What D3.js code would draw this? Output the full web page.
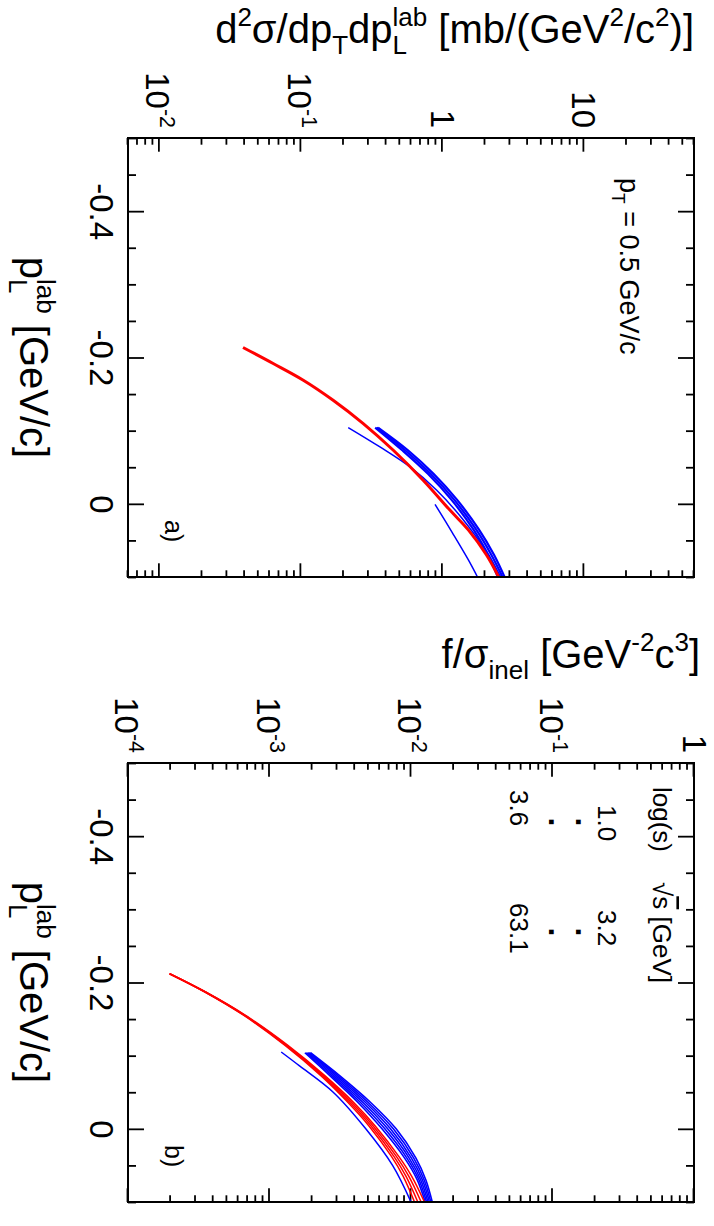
<!DOCTYPE html>
<html>
<head>
<meta charset="utf-8">
<script src="https://cdn.jsdelivr.net/npm/d3@7"></script>
<style>
  body { margin: 0; background: #fff; }
  text { font-family: "Liberation Sans", Arial, Helvetica, sans-serif; fill: #000; }
</style>
</head>
<body>
<svg id="chart" width="714" height="1226"></svg>
<script>
// ---- data (p_L^lab in GeV/c) ----
// panel a: d2sigma/dpT dpL [mb/(GeV^2/c^2)]
var pLRedA = [-0.2137, -0.1918, -0.169, -0.1416, -0.1097, -0.0732, -0.032, 0.0089, 0.036, 0.07, 0.10];
var redA = [0.039, 0.0637, 0.104, 0.169, 0.276, 0.45, 0.734, 1.134, 1.53, 2.05, 2.5];

var pLBlueA = [-0.1042, -0.0732, -0.041, -0.005, 0.035, 0.07, 0.10];
var blueA1 = [0.351, 0.571, 0.866, 1.276, 1.81, 2.32, 2.75];
var blueA2 = [0.343, 0.545, 0.826, 1.219, 1.73, 2.22, 2.66];
var blueA3 = [0.335, 0.520, 0.790, 1.165, 1.655, 2.12, 2.57];

var pLThinA1 = [-0.1042, -0.0777, -0.0504, -0.0185, 0.02, 0.06, 0.10];
var thinA1 = [0.216, 0.362, 0.59, 0.912, 1.38, 1.95, 2.45];
var pLThinA2 = [0.0007, 0.04, 0.077, 0.10];
var thinA2 = [0.887, 1.18, 1.53, 1.77];

// panel b: f/sigma_inel [GeV^-2 c^3]
var pLRedB = [-0.212, -0.187, -0.155, -0.114, -0.072, -0.036, -0.004, 0.038, 0.065, 0.10];
var redB1 = [1.968e-4, 3.494e-4, 6.592e-4, 1.288e-3, 2.328e-3, 3.589e-3, 5.047e-3, 7.295e-3, 8.810e-3, 1.059e-2];
var redB2 = [1.968e-4, 3.511e-4, 6.653e-4, 1.308e-3, 2.378e-3, 3.700e-3, 5.221e-3, 7.592e-3, 9.226e-3, 1.117e-2];
var redB3 = [1.968e-4, 3.527e-4, 6.714e-4, 1.328e-3, 2.430e-3, 3.816e-3, 5.400e-3, 7.903e-3, 9.661e-3, 1.180e-2];
var redB4 = [1.968e-4, 3.543e-4, 6.776e-4, 1.349e-3, 2.483e-3, 3.936e-3, 5.585e-3, 8.222e-3, 1.012e-2, 1.245e-2];

var pLBlueB = [-0.104, -0.072, -0.036, 0.0, 0.04, 0.07, 0.10];
var blueB1 = [1.778e-3, 2.692e-3, 4.217e-3, 6.237e-3, 9.016e-3, 1.109e-2, 1.259e-2];
var blueB2 = [1.811e-3, 2.780e-3, 4.395e-3, 6.531e-3, 9.354e-3, 1.140e-2, 1.288e-2];
var blueB3 = [1.845e-3, 2.871e-3, 4.581e-3, 6.839e-3, 9.705e-3, 1.172e-2, 1.318e-2];
var blueB4 = [1.879e-3, 2.965e-3, 4.775e-3, 7.161e-3, 1.007e-2, 1.205e-2, 1.349e-2];
var blueB5 = [1.914e-3, 3.062e-3, 4.977e-3, 7.499e-3, 1.045e-2, 1.239e-2, 1.380e-2];
var blueB6 = [1.950e-3, 3.162e-3, 5.188e-3, 7.852e-3, 1.084e-2, 1.274e-2, 1.413e-2];

var pLThinB = [-0.105, -0.086, -0.05, 0.0, 0.05, 0.10];
var thinB = [1.21e-3, 1.63e-3, 2.82e-3, 4.79e-3, 7.41e-3, 1.0e-2];

// axis settings
var pLDomain = [-0.5, 0.1];
var pLMajor = [-0.4, -0.2, 0];
var yDomainA = [0.006, 60];
var yDomainB = [1e-4, 1];

// legend of panel b
var legendHead = ["log(s)", "s [GeV]"];
var legendRows = [["1.0", "3.2"], ["3.6", "63.1"]];

var RED = "#ff0000", BLUE = "#0000ff";

function pairs(xs, vs) {
  return xs.map(function(x, i) { return { pL: x, v: vs[i] }; });
}

var seriesA = [
  { d: pairs(pLThinA1, thinA1), c: BLUE, w: 1.5 },
  { d: pairs(pLThinA2, thinA2), c: BLUE, w: 1.5 },
  { d: pairs(pLBlueA, blueA3), c: BLUE, w: 2.2 },
  { d: pairs(pLBlueA, blueA2), c: BLUE, w: 2.2 },
  { d: pairs(pLBlueA, blueA1), c: BLUE, w: 2.2 },
  { d: pairs(pLRedA, redA), c: RED, w: 3 }
];
var seriesB = [
  { d: pairs(pLThinB, thinB), c: BLUE, w: 1.5 },
  { d: pairs(pLBlueB, blueB1), c: BLUE, w: 1.6 },
  { d: pairs(pLBlueB, blueB2), c: BLUE, w: 1.6 },
  { d: pairs(pLBlueB, blueB3), c: BLUE, w: 1.6 },
  { d: pairs(pLBlueB, blueB4), c: BLUE, w: 1.6 },
  { d: pairs(pLBlueB, blueB5), c: BLUE, w: 1.6 },
  { d: pairs(pLBlueB, blueB6), c: BLUE, w: 1.6 },
  { d: pairs(pLRedB, redB1), c: RED, w: 1.5 },
  { d: pairs(pLRedB, redB2), c: RED, w: 1.5 },
  { d: pairs(pLRedB, redB3), c: RED, w: 1.5 },
  { d: pairs(pLRedB, redB4), c: RED, w: 1.5 }
];

// whole figure is drawn landscape and turned by 90 degrees
var svg = d3.select("#chart");
var root = svg.append("g").attr("transform", "translate(714,0) rotate(90)");
var TOP = 20, BOTTOM = 586;

// text with sub/superscripts
function rich(t, parts, F) {
  var shift = 0;
  parts.forEach(function(p) {
    var target = p.s === "sup" ? -0.42 * F : p.s === "sub" ? 0.28 * F : 0;
    var ts = t.append("tspan").text(p.t)
      .attr("dy", target - shift)
      .attr("font-size", p.s ? 0.65 * F : F);
    if (p.dx) ts.attr("dx", p.dx);
    shift = target;
  });
  return t;
}

function drawPanel(p) {
  var g = root.append("g");
  var x = d3.scaleLinear().domain(pLDomain).range([p.left, p.right]);
  var y = d3.scaleLog().domain(p.yDomain).range([BOTTOM, TOP]);

  var fmt = function(d) { return d === 0 ? "0" : d.toFixed(1); };
  var pLMinor = x.ticks(12).filter(function(d) {
    return pLMajor.every(function(m) { return Math.abs(m - d) > 1e-6; });
  });
  var logAll = y.ticks();
  var logMajor = logAll.filter(function(d) { return Math.abs(Math.log10(d) - Math.round(Math.log10(d))) < 1e-6; });
  var logMinor = logAll.filter(function(d) { return logMajor.indexOf(d) < 0; });

  function tickStyle(sel) {
    sel.select(".domain").remove();
    sel.selectAll("line").attr("stroke", "#000").attr("stroke-width", 1.8);
  }

  // p_L axis (bottom + mirrored top)
  var bx = g.append("g").attr("transform", "translate(0," + BOTTOM + ")")
    .call(d3.axisBottom(x).tickValues(pLMajor).tickSize(-16).tickPadding(14.6).tickFormat(fmt));
  bx.attr("font-size", 33).attr("font-family", null);
  bx.selectAll("text").attr("fill", "#000");
  tickStyle(bx);
  tickStyle(g.append("g").attr("transform", "translate(0," + BOTTOM + ")")
    .call(d3.axisBottom(x).tickValues(pLMinor).tickSize(-8).tickFormat("")));
  tickStyle(g.append("g").attr("transform", "translate(0," + TOP + ")")
    .call(d3.axisTop(x).tickValues(pLMajor).tickSize(-16).tickFormat("")));
  tickStyle(g.append("g").attr("transform", "translate(0," + TOP + ")")
    .call(d3.axisTop(x).tickValues(pLMinor).tickSize(-8).tickFormat("")));

  // log axis (left + mirrored right)
  tickStyle(g.append("g").attr("transform", "translate(" + p.left + ",0)")
    .call(d3.axisLeft(y).tickValues(logMajor).tickSize(-13.7).tickFormat("")));
  tickStyle(g.append("g").attr("transform", "translate(" + p.left + ",0)")
    .call(d3.axisLeft(y).tickValues(logMinor).tickSize(-6.7).tickFormat("")));
  tickStyle(g.append("g").attr("transform", "translate(" + p.right + ",0)")
    .call(d3.axisRight(y).tickValues(logMajor).tickSize(-13.7).tickFormat("")));
  tickStyle(g.append("g").attr("transform", "translate(" + p.right + ",0)")
    .call(d3.axisRight(y).tickValues(logMinor).tickSize(-6.7).tickFormat("")));

  // log tick labels
  logMajor.forEach(function(v) {
    var e = Math.round(Math.log10(v));
    var t = g.append("text").attr("x", p.left - 10).attr("y", y(v)).attr("text-anchor", "end");
    if (e >= 0) rich(t, [{ t: String(Math.round(v)) }], 33);
    else rich(t, [{ t: "10" }, { t: String(e), s: "sup" }], 33);
    var bb = t.node().getBBox();
    t.attr("y", y(v) + (y(v) - (bb.y + bb.height / 2)));
  });

  // curves
  var clipId = "clip" + p.name;
  g.append("clipPath").attr("id", clipId).append("rect")
    .attr("x", p.left).attr("y", TOP).attr("width", p.right - p.left).attr("height", BOTTOM - TOP);
  var line = d3.line().x(function(d) { return x(d.pL); }).y(function(d) { return y(d.v); })
    .curve(d3.curveCatmullRom.alpha(0.5));
  g.append("g").attr("clip-path", "url(#" + clipId + ")")
    .selectAll("path").data(p.series).enter().append("path")
    .attr("d", function(s) { return line(s.d); })
    .attr("fill", "none")
    .attr("stroke", function(s) { return s.c; })
    .attr("stroke-width", function(s) { return s.w; });

  // frame
  g.append("rect").attr("x", p.left).attr("y", TOP)
    .attr("width", p.right - p.left).attr("height", BOTTOM - TOP)
    .attr("fill", "none").attr("stroke", "#000").attr("stroke-width", 2);

  // p_L title
  rich(g.append("text").attr("x", (p.left + p.right) / 2).attr("y", 694).attr("text-anchor", "middle"),
    [{ t: "p" }, { t: "L", s: "sub" }, { t: "lab", s: "sup", dx: -0.65 * 40 * 0.556 }, { t: " [GeV/c]" }], 40);

  // y title
  rich(g.append("text").attr("text-anchor", "end")
    .attr("transform", "translate(" + (p.left - 95) + "," + (TOP - p.titleShift) + ") rotate(-90)"), p.yTitle, 40);

  // panel tag
  g.append("text").attr("x", p.left + 382).attr("y", 549).attr("font-size", 25).text(p.tag);
  return g;
}

drawPanel({
  name: "A", left: 138, right: 577, yDomain: yDomainA, series: seriesA, tag: "a)", titleShift: 0,
  yTitle: [{ t: "d" }, { t: "2", s: "sup" }, { t: "\u03C3/dp" }, { t: "T", s: "sub" }, { t: "dp" },
    { t: "L", s: "sub" }, { t: "lab", s: "sup", dx: -0.65 * 40 * 0.556 }, { t: " [mb/(GeV" },
    { t: "2", s: "sup" }, { t: "/c" }, { t: "2", s: "sup" }, { t: ")]" }]
});
drawPanel({
  name: "B", left: 763, right: 1202, yDomain: yDomainB, series: seriesB, tag: "b)", titleShift: 6,
  yTitle: [{ t: "f/\u03C3" }, { t: "inel", s: "sub" }, { t: " [GeV" }, { t: "-2", s: "sup" },
    { t: "c" }, { t: "3", s: "sup" }, { t: "]" }]
});

// p_T note in panel a
rich(root.append("text").attr("x", 178).attr("y", 94),
  [{ t: "p" }, { t: "T", s: "sub" }, { t: " = 0.5 GeV/c" }], 27);

// legend in panel b
root.append("text").attr("x", 787).attr("y", 61).attr("font-size", 26).text(legendHead[0]);
var sq = root.append("text").attr("x", 882).attr("y", 61).attr("font-size", 26);
sq.append("tspan").text("\u221A");
sq.append("tspan").style("text-decoration", "overline").text(legendHead[1].slice(0, 1));
sq.append("tspan").text(legendHead[1].slice(1));

var legX = [[805, 910], [790, 903]];
var legY = [116, 204];
legendRows.forEach(function(row, i) {
  row.forEach(function(s, j) {
    root.append("text").attr("x", legX[i][j]).attr("y", legY[i]).attr("font-size", 26).text(s);
  });
});
[822, 932].forEach(function(cx) {
  [138, 165].forEach(function(cy) {
    root.append("text").attr("x", cx).attr("y", cy).attr("text-anchor", "middle")
      .attr("font-size", 32).attr("font-weight", "bold").text(".");
  });
});
</script>
</body>
</html>
